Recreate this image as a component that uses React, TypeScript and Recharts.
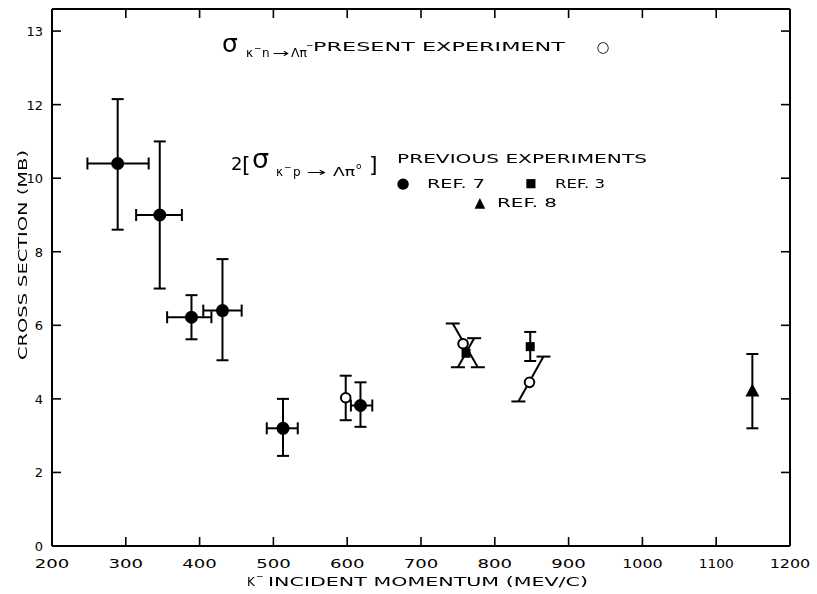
import React from "react";
import { ErrorBar, ReferenceLine, Scatter, ScatterChart, XAxis, YAxis } from "recharts";

const xTicks = [200, 300, 400, 500, 600, 700, 800, 900, 1000, 1100, 1200];
const yTicks = [0, 2, 4, 6, 8, 10, 12, 14];
// the top tick is printed "13" in the original figure
const yTickLabels = ["0", "2", "4", "6", "8", "10", "12", "13"];

// Ref. 7 (filled circles)
const ref7Momentum = [289, 346, 389, 431, 513, 618];
const ref7Sigma = [10.4, 9.0, 6.22, 6.4, 3.2, 3.82];
const ref7SigmaLow = [1.8, 2.0, 0.6, 1.35, 0.75, 0.58];
const ref7SigmaHigh = [1.75, 2.0, 0.6, 1.4, 0.8, 0.63];
const ref7MomLow = [41, 32, 33, 26, 22, 13];
const ref7MomHigh = [42, 30, 27, 26, 20, 16];

// present experiment (open circles)
const presentMomentum = [598, 757, 847];
const presentSigma = [4.03, 5.5, 4.45];
const presentSigmaLow = [0.61, null, null];
const presentSigmaHigh = [0.6, null, null];

// Ref. 3 (squares)
const ref3Momentum = [761, 848];
const ref3Sigma = [5.24, 5.42];
const ref3SigmaLow = [null, 0.39];
const ref3SigmaHigh = [null, 0.4];

// Ref. 8 (triangle)
const ref8Momentum = [1149];
const ref8Sigma = [4.2];
const ref8SigmaLow = [1.0];
const ref8SigmaHigh = [1.02];

// slanted error bars, [momentum, sigma] at each end
const slantFrom = [[743, 6.05], [832, 3.93], [750, 4.86]];
const slantTo = [[777, 4.86], [866, 5.15], [772, 5.65]];

const FONT = "'DejaVu Sans', sans-serif";

function rows(mom: number[], sig: number[], lo: (number | null)[], hi: (number | null)[], xlo?: number[], xhi?: number[]) {
  return mom.map((m, i) => ({
    m,
    s: sig[i],
    yErr: lo[i] == null ? null : [lo[i], hi[i]],
    xErr: xlo ? [xlo[i], xhi![i]] : null,
  }));
}

const ref7Data = rows(ref7Momentum, ref7Sigma, ref7SigmaLow, ref7SigmaHigh, ref7MomLow, ref7MomHigh);
const presentData = rows(presentMomentum, presentSigma, presentSigmaLow, presentSigmaHigh);
const ref3Data = rows(ref3Momentum, ref3Sigma, ref3SigmaLow, ref3SigmaHigh);
const ref8Data = rows(ref8Momentum, ref8Sigma, ref8SigmaLow, ref8SigmaHigh);

function labelWidth(s: string) {
  return [...s].reduce((a, c) => a + (c === "1" ? 6 : 11.5), 0);
}

function BottomTick(props: any) {
  const { x, y, payload } = props;
  const label = String(payload.value);
  return (
    <g>
      <line x1={x} y1={y} x2={x} y2={y - 9} stroke="#000" strokeWidth={1.6} />
      <text x={x} y={y + 22} textAnchor="middle" fontSize={12.5} fontFamily={FONT}
        textLength={labelWidth(label)} lengthAdjust="spacingAndGlyphs">{label}</text>
    </g>
  );
}

function LeftTick(props: any) {
  const { x, y, payload } = props;
  const label = yTickLabels[yTicks.indexOf(payload.value)];
  return (
    <g>
      <line x1={x} y1={y} x2={x + 9} y2={y} stroke="#000" strokeWidth={1.6} />
      <text x={x - 9} y={y + 5} textAnchor="end" fontSize={13} fontFamily={FONT}>{label}</text>
    </g>
  );
}

function TopTick(props: any) {
  const { x, y } = props;
  return <line x1={x} y1={y} x2={x} y2={y + 9} stroke="#000" strokeWidth={1.6} />;
}

function RightTick(props: any) {
  const { x, y } = props;
  return <line x1={x} y1={y} x2={x - 9} y2={y} stroke="#000" strokeWidth={1.6} />;
}

function FilledCircle(props: any) {
  return <circle cx={props.cx} cy={props.cy} r={6.5} fill="#000" />;
}

function OpenCircle(props: any) {
  return <circle cx={props.cx} cy={props.cy} r={4.8} fill="#fff" stroke="#000" strokeWidth={2} />;
}

function Square(props: any) {
  return <rect x={props.cx - 4.5} y={props.cy - 4.5} width={9} height={9} fill="#000" />;
}

function Triangle(props: any) {
  const { cx, cy } = props;
  return <polygon points={`${cx},${cy - 8} ${cx - 7},${cy + 5} ${cx + 7},${cy + 5}`} fill="#000" />;
}

function SlantBar(props: any) {
  const { x1, y1, x2, y2 } = props;
  const c = 7;
  return (
    <g stroke="#000" strokeWidth={2}>
      <line x1={x1} y1={y1} x2={x2} y2={y2} />
      <line x1={x1 - c} y1={y1} x2={x1 + c} y2={y1} />
      <line x1={x2 - c} y1={y2} x2={x2 + c} y2={y2} />
    </g>
  );
}

function Annotations() {
  const t = { fontFamily: FONT, fill: "#000" } as const;
  return (
    <svg width={817} height={594}
      style={{ position: "absolute", left: 0, top: 0, pointerEvents: "none", filter: "grayscale(1)" }}>
      {/* present experiment */}
      <text x={222} y={52} fontSize={25} {...t}>σ</text>
      <text x={246} y={57} fontSize={12} {...t}>κ</text>
      <text x={254} y={51} fontSize={9} {...t}>−</text>
      <text x={262} y={57} fontSize={12} {...t}>n</text>
      <text x={272} y={57} fontSize={12} textLength={17} lengthAdjust="spacingAndGlyphs" {...t}>→</text>
      <text x={291} y={57} fontSize={12} textLength={16} lengthAdjust="spacingAndGlyphs" {...t}>Λπ</text>
      <text x={306} y={48} fontSize={9} {...t}>−</text>
      <text x={313} y={51} fontSize={12} textLength={252} lengthAdjust="spacingAndGlyphs" {...t}>PRESENT EXPERIMENT</text>
      <text x={603} y={52} fontSize={15} textAnchor="middle" {...t}>○</text>

      {/* previous experiments */}
      <text x={231} y={170} fontSize={18} {...t}>2</text>
      <text x={242} y={172} fontSize={22} {...t}>[</text>
      <text x={252} y={168} fontSize={27} {...t}>σ</text>
      <text x={276} y={176} fontSize={12} {...t}>κ</text>
      <text x={284} y={170} fontSize={9} {...t}>−</text>
      <text x={293} y={176} fontSize={12} {...t}>p</text>
      <text x={306} y={176} fontSize={12} textLength={20} lengthAdjust="spacingAndGlyphs" {...t}>→</text>
      <text x={333} y={176} fontSize={12} textLength={22} lengthAdjust="spacingAndGlyphs" {...t}>Λπ</text>
      <text x={356} y={169} fontSize={9} {...t}>o</text>
      <text x={369} y={172} fontSize={22} {...t}>]</text>
      <text x={397} y={163} fontSize={12} textLength={250} lengthAdjust="spacingAndGlyphs" {...t}>PREVIOUS EXPERIMENTS</text>

      <text x={403} y={188} fontSize={15} textAnchor="middle" {...t}>●</text>
      <text x={427} y={188} fontSize={12} textLength={58} lengthAdjust="spacingAndGlyphs" {...t}>REF. 7</text>
      <text x={531} y={187} fontSize={12} textAnchor="middle" {...t}>■</text>
      <text x={555} y={188} fontSize={12} textLength={50} lengthAdjust="spacingAndGlyphs" {...t}>REF. 3</text>
      <text x={480} y={207} fontSize={14} textAnchor="middle" {...t}>▲</text>
      <text x={497} y={207} fontSize={12} textLength={60} lengthAdjust="spacingAndGlyphs" {...t}>REF. 8</text>

      {/* axis titles */}
      <text x={247} y={586} fontSize={12} {...t}>K</text>
      <text x={256} y={579} fontSize={9} {...t}>−</text>
      <text x={268} y={586} fontSize={12} textLength={320} lengthAdjust="spacingAndGlyphs" {...t}>INCIDENT MOMENTUM (MEV/C)</text>
      <text x={0} y={0} fontSize={12} textAnchor="middle" textLength={210} lengthAdjust="spacingAndGlyphs"
        transform="translate(27 255) rotate(-90)" {...t}>CROSS SECTION (MB)</text>
    </svg>
  );
}

export default function App() {
  const axisLine = { stroke: "#000", strokeWidth: 2 };
  return (
    <div style={{ position: "absolute", left: 0, top: 0, width: 817, height: 594, background: "#fff" }}>
      <ScatterChart width={817} height={594} margin={{ top: 8, right: 26, bottom: 0, left: 0 }}>
        <XAxis dataKey="m" type="number" domain={[200, 1200]} ticks={xTicks} allowDataOverflow
          height={48} axisLine={axisLine} tickLine={false} tickSize={0} tickMargin={0} tick={<BottomTick />} />
        <XAxis xAxisId="top" dataKey="m" orientation="top" type="number" domain={[200, 1200]} ticks={xTicks} allowDataOverflow
          height={1} axisLine={axisLine} tickLine={false} tickSize={0} tickMargin={0} tick={<TopTick />} />
        <YAxis dataKey="s" type="number" domain={[0, 14.6]} ticks={yTicks} allowDataOverflow
          width={52} axisLine={axisLine} tickLine={false} tickSize={0} tickMargin={0} tick={<LeftTick />} />
        <YAxis yAxisId="right" dataKey="s" orientation="right" type="number" domain={[0, 14.6]} ticks={yTicks} allowDataOverflow
          width={1} axisLine={axisLine} tickLine={false} tickSize={0} tickMargin={0} tick={<RightTick />} />

        {slantFrom.map((p, i) => (
          <ReferenceLine key={i} segment={[{ x: p[0], y: p[1] }, { x: slantTo[i][0], y: slantTo[i][1] }]}
            shape={<SlantBar />} />
        ))}

        <Scatter data={ref7Data} shape={<FilledCircle />} isAnimationActive={false}>
          <ErrorBar dataKey="yErr" direction="y" width={6} stroke="#000" strokeWidth={2} isAnimationActive={false} />
          <ErrorBar dataKey="xErr" direction="x" width={6} stroke="#000" strokeWidth={2} isAnimationActive={false} />
        </Scatter>
        <Scatter data={ref3Data} shape={<Square />} isAnimationActive={false}>
          <ErrorBar dataKey="yErr" direction="y" width={6} stroke="#000" strokeWidth={2} isAnimationActive={false} />
        </Scatter>
        {/* ref. 8 is plotted on the mirrored top/right axes (same scales) so the frame axes render */}
        <Scatter data={ref8Data} xAxisId="top" yAxisId="right" shape={<Triangle />} isAnimationActive={false}>
          <ErrorBar dataKey="yErr" direction="y" width={6} stroke="#000" strokeWidth={2} isAnimationActive={false} />
        </Scatter>
        <Scatter data={presentData} shape={<OpenCircle />} isAnimationActive={false}>
          <ErrorBar dataKey="yErr" direction="y" width={6} stroke="#000" strokeWidth={2} isAnimationActive={false} />
        </Scatter>
      </ScatterChart>
      <Annotations />
    </div>
  );
}
